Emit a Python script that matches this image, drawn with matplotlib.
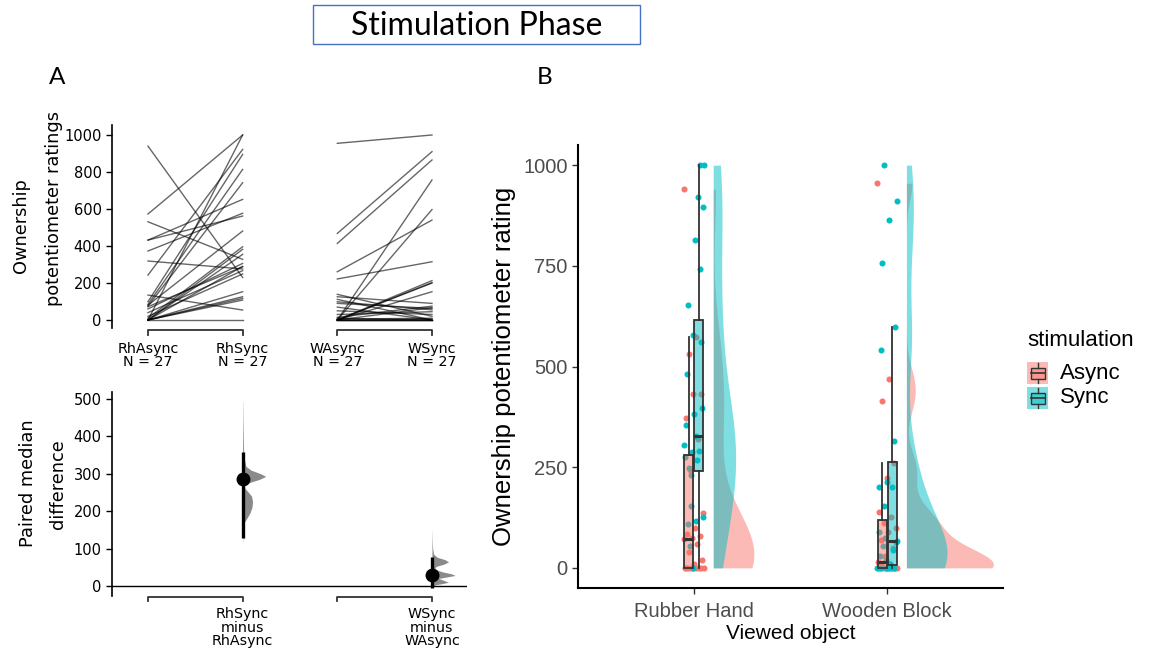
import numpy as np
import matplotlib
matplotlib.use("Agg")
import matplotlib.pyplot as plt
from matplotlib.patches import Rectangle
from matplotlib.colors import to_rgba

W, H, DPI = 1154, 656, 100

# ---------------- data ----------------
rh_async = [940, 573, 531, 432, 432, 373, 319, 243, 135, 99, 85, 80, 75, 72,
            60, 40, 20, 10, 0, 0, 0, 0, 0, 0, 0, 0, 0]
rh_sync = [230, 1000, 328, 652, 562, 577, 276, 922, 54, 895, 814, 481, 742, 288,
           306, 267, 249, 396, 382, 355, 290, 153, 126, 117, 108, 1000, 0]
w_async = [955, 468, 414, 261, 222, 139, 126, 112, 99, 90, 70, 50, 30, 15,
           10, 5, 0, 0, 0, 0, 0, 0, 0, 0, 0, 0, 0]
w_sync = [1000, 910, 865, 540, 315, 20, 90, 0, 55, 63, 0, 30, 45, 75,
          0, 10, 757, 597, 213, 202, 200, 153, 67, 5, 0, 0, 0]

top_conditions = ["RhAsync", "RhSync", "WAsync", "WSync"]
top_n = [27, 27, 27, 27]
diff_labels = ["RhSync\nminus\nRhAsync", "WSync\nminus\nWAsync"]
diff_point = [285, 30]
diff_ci_low = [128, -5]
diff_ci_high = [358, 77]
# bootstrap distribution profiles (value, relative density)
rh_boot_vals = [495, 490, 450, 400, 360, 340, 320, 310, 300, 293, 285, 275, 268, 260,
                250, 240, 225, 210, 195, 180, 170, 160, 130, 110]
rh_boot_dens = [0, 0.5, 1, 2, 3, 5, 10, 25, 55, 70, 50, 15, 5, 8,
                18, 27, 30, 28, 22, 12, 5, 2, 1, 0]
w_boot_vals = [155, 120, 100, 85, 77, 70, 64, 58, 52, 45, 38, 32, 28, 24,
               20, 15, 10, 6, 3, 0, -3]
w_boot_dens = [0, 1, 2, 5, 15, 40, 50, 35, 12, 8, 30, 60, 70, 45,
               20, 35, 50, 30, 10, 2, 0]

objects = ["Rubber Hand", "Wooden Block"]
stim_levels = ["Async", "Sync"]
stim_colors = ["#F8766D", "#00BFC4"]
b_data = [[rh_async, rh_sync], [w_async, w_sync]]

# ---------------- figure ----------------
fig = plt.figure(figsize=(W / DPI, H / DPI), dpi=DPI)


def px_axes(x0, y0, x1, y1, **kw):
    return fig.add_axes([x0 / W, 1 - y1 / H, (x1 - x0) / W, (y1 - y0) / H], **kw)


DV = "DejaVu Sans"
AR = "Liberation Sans"

# ---- Panel A top: paired lines ----
axA = px_axes(112, 125, 467, 328)
axA.set_xlim(-0.38, 3.37)
axA.set_ylim(-43, 1054)
for a, b in zip(rh_async, rh_sync):
    axA.plot([0, 1], [a, b], color="black", alpha=0.6, lw=1.0)
for a, b in zip(w_async, w_sync):
    axA.plot([2, 3], [a, b], color="black", alpha=0.6, lw=1.0)
for s in ["top", "right", "bottom"]:
    axA.spines[s].set_visible(False)
axA.spines["left"].set_linewidth(1.2)
axA.set_yticks(range(0, 1001, 200))
axA.set_xticks(range(4))
axA.set_xticklabels([f"{c}\nN = {n}" for c, n in zip(top_conditions, top_n)],
                    fontsize=10.3, family=DV, linespacing=0.95)
axA.tick_params(axis="x", length=0, pad=10)
axA.tick_params(axis="y", labelsize=10.5, length=4, width=1)
tr = axA.get_xaxis_transform()
for g in (0, 2):
    axA.plot([g, g, g + 1, g + 1], [-0.034, -0.01, -0.01, -0.034], transform=tr,
             clip_on=False, color="#333333", lw=1.3)

# ---- Panel A bottom: paired median difference ----
axD = px_axes(112, 392, 467, 596)
axD.set_xlim(-0.38, 3.37)
axD.set_ylim(-27, 519)
axD.axhline(0, color="black", lw=1.0)
maxd = max(max(rh_boot_dens), max(w_boot_dens))
for x, vals, dens in [(1, rh_boot_vals, rh_boot_dens), (3, w_boot_vals, w_boot_dens)]:
    d = np.array(dens) / maxd * 0.245
    axD.fill_betweenx(vals, x, x + d, color="#8a8a8a", lw=0)
for x, p, lo, hi in zip([1, 3], diff_point, diff_ci_low, diff_ci_high):
    axD.plot([x, x], [lo, hi], color="black", lw=2.4, solid_capstyle="butt")
    axD.plot([x], [p], "o", color="black", ms=9)
for s in ["top", "right", "bottom"]:
    axD.spines[s].set_visible(False)
axD.spines["left"].set_linewidth(1.2)
axD.set_yticks(range(0, 501, 100))
axD.set_xticks([1, 3])
axD.set_xticklabels(diff_labels, fontsize=10.3, family=DV, linespacing=0.95)
axD.tick_params(axis="x", length=0, pad=8)
axD.tick_params(axis="y", labelsize=10.5, length=4, width=1)
trd = axD.get_xaxis_transform()
for g in (0, 2):
    axD.plot([g, g, g + 1, g + 1], [-0.025, -0.005, -0.005, -0.025], transform=trd,
             clip_on=False, color="#333333", lw=1.3)

# ---- Panel B: raincloud ----
axB = px_axes(578, 145, 1003, 588)
axB.set_xlim(0.4, 2.6)
axB.set_ylim(-50, 1050)


def kde_nrd0(data, grid):
    x = np.asarray(data, float)
    n = len(x)
    sd = x.std(ddof=1)
    q75, q25 = np.percentile(x, [75, 25])
    lo = min(sd, (q75 - q25) / 1.34)
    if lo <= 0:
        lo = sd
    bw = 0.9 * lo * n ** -0.2
    z = (grid[:, None] - x[None, :]) / bw
    return np.exp(-0.5 * z ** 2).sum(1) / (n * bw * np.sqrt(2 * np.pi))


dens_all = []
for i in range(2):
    for j in range(2):
        v = np.asarray(b_data[i][j], float)
        grid = np.linspace(v.min(), v.max(), 512)
        dens_all.append((i, j, grid, kde_nrd0(v, grid)))
gmax = max(d.max() for _, _, _, d in dens_all)
for i, j, grid, d in dens_all:
    cx = i + 1 + 0.1
    axB.fill_betweenx(grid, cx, cx + d / gmax * 0.45, color=stim_colors[j], alpha=0.5, lw=0,
                      zorder=1)

for i in range(2):
    for j in range(2):
        v = np.asarray(b_data[i][j], float)
        k = np.arange(len(v))
        jit = ((k * 0.618034 + j * 0.37) % 1 - 0.5) * 0.105
        axB.scatter(i + 1 + jit, v, s=19, color=stim_colors[j], lw=0, zorder=3)

for i in range(2):
    for j in range(2):
        pos = i + 1 + (j - 0.5) * 0.052
        axB.boxplot(b_data[i][j], positions=[pos], widths=0.047, patch_artist=True,
                    showfliers=False, showcaps=False, whis=1.5, manage_ticks=False,
                    boxprops=dict(facecolor=to_rgba(stim_colors[j], 0.5), edgecolor="#333333", lw=1.3),
                    medianprops=dict(color="#333333", lw=2.2),
                    whiskerprops=dict(color="#333333", lw=1.3), zorder=4)

for s in ["top", "right"]:
    axB.spines[s].set_visible(False)
for s in ["left", "bottom"]:
    axB.spines[s].set_linewidth(1.5)
axB.set_yticks([0, 250, 500, 750, 1000])
axB.set_xticks([1, 2])
axB.set_xticklabels(objects)
axB.tick_params(labelsize=14.5, labelcolor="#4D4D4D", color="#333333", length=4, width=1)
for lab in axB.get_xticklabels() + axB.get_yticklabels():
    lab.set_family(AR)
axB.tick_params(axis="x", pad=6)
axB.set_ylabel("Ownership potentiometer rating", fontsize=18.5, family=AR, labelpad=5)
axB.set_xlabel("Viewed object", fontsize=15, family=AR, labelpad=2)

# ---- overlay (titles, panel letters, legend) ----
ov = fig.add_axes([0, 0, 1, 1], zorder=10)
ov.set_xlim(0, W)
ov.set_ylim(H, 0)
ov.axis("off")
ov.add_patch(Rectangle((313, 5), 327, 39, fill=False, ec="#4472C4", lw=1))
ov.text(477, 26, "Stimulation Phase", ha="center", va="center", fontsize=23, family="Lato")
ov.text(57, 78, "A", ha="center", va="center", fontsize=17.5, family="Lato")
ov.text(545, 78, "B", ha="center", va="center", fontsize=17.5, family="Lato")
ov.text(21, 226, "Ownership", rotation=90, ha="center", va="center", fontsize=12.8, family=DV)
ov.text(54, 209, "potentiometer ratings", rotation=90, ha="center", va="center", fontsize=12.8, family=DV)
ov.text(28, 483, "Paired median", rotation=90, ha="center", va="center", fontsize=12.8, family=DV)
ov.text(58, 484, "difference", rotation=90, ha="center", va="center", fontsize=12.8, family=DV)

ov.text(1027, 340, "stimulation", ha="left", va="center", fontsize=16, family=AR)
for j, y0 in enumerate([362, 387]):
    ov.add_patch(Rectangle((1027, y0), 21, 22, facecolor=to_rgba(stim_colors[j], 0.5), ec="none"))
    ov.add_patch(Rectangle((1031, y0 + 6), 14, 11, facecolor=to_rgba(stim_colors[j], 0.5),
                           ec="#333333", lw=1))
    ov.plot([1031, 1045], [y0 + 11, y0 + 11], color="#333333", lw=1.2)
    ov.plot([1038, 1038], [y0 + 1, y0 + 6], color="#333333", lw=1)
    ov.plot([1038, 1038], [y0 + 17, y0 + 21], color="#333333", lw=1)
    ov.text(1060, y0 + 11, stim_levels[j], ha="left", va="center", fontsize=16, family=AR)

fig.savefig("out.png", dpi=DPI)
